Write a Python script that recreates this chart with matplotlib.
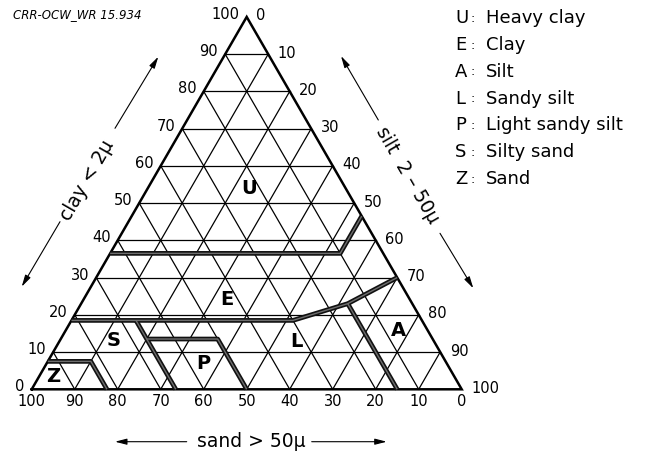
import numpy as np
import matplotlib
matplotlib.use("Agg")
import matplotlib.pyplot as plt

# grid step of the triangle (percent)
grid_steps = [10, 20, 30, 40, 50, 60, 70, 80, 90]
tick_values = [0, 10, 20, 30, 40, 50, 60, 70, 80, 90, 100]

# class boundaries as (sand %, clay %) vertices
bound_U_sand = [63.5, 10, 0]
bound_U_clay = [36.5, 36.5, 46.5]
bound_E_sand = [81.5, 30, 15, 0]
bound_E_clay = [18.5, 18.5, 23, 30]
bound_A_sand = [15, 15]
bound_A_clay = [23, 0]
bound_S_sand = [66.5, 66.5]
bound_S_clay = [18.5, 0]
bound_P_sand = [66.5, 50, 50]
bound_P_clay = [13.5, 13.5, 0]
bound_Z_sand = [92.5, 82.5, 82.5]
bound_Z_clay = [7.5, 7.5, 0]

# class letters placed at (clay %, silt %)
class_codes = ["U", "E", "A", "L", "P", "S", "Z"]
class_names = ["Heavy clay", "Clay", "Silt", "Sandy silt",
               "Light sandy silt", "Silty sand", "Sand"]
label_clay = [54, 24, 15.9, 12.8, 7, 13.2, 3.4]
label_silt = [23.5, 33.3, 77.3, 55.2, 36.3, 12.5, 3.3]

H = np.sqrt(3) / 2


def tern(clay, silt):
    clay = np.asarray(clay, dtype=float)
    silt = np.asarray(silt, dtype=float)
    return silt + clay / 2, clay * H


def tern_sand(sand, clay):
    sand = np.asarray(sand, dtype=float)
    clay = np.asarray(clay, dtype=float)
    return tern(clay, 100 - sand - clay)


# pixel -> data helper for the loose annotations (scale 4.3 px per unit)
X0, Y0, S = 31.7, 389.3, 4.3


def px(x, y):
    return (x - X0) / S, (Y0 - y) / S


fig = plt.figure(figsize=(6.54, 4.55), dpi=100)
ax = fig.add_axes([0, 0, 1, 1])
ax.set_xlim(-X0 / S, (654 - X0) / S)
ax.set_ylim((Y0 - 455) / S, Y0 / S)
ax.axis("off")

# thin grid
for v in grid_steps:
    x, y = tern([v, v], [0, 100 - v])          # constant clay
    ax.plot(x, y, color="k", lw=0.9, zorder=1)
    x, y = tern([0, 100 - v], [v, v])          # constant silt
    ax.plot(x, y, color="k", lw=0.9, zorder=1)
    x, y = tern_sand([v, v], [0, 100 - v])     # constant sand
    ax.plot(x, y, color="k", lw=0.9, zorder=1)

# outer triangle
x, y = tern([0, 100, 0, 0], [0, 0, 100, 0])
ax.plot(x, y, color="k", lw=1.8, zorder=3, solid_joinstyle="miter")

# class boundaries
bounds = [(bound_U_sand, bound_U_clay), (bound_E_sand, bound_E_clay),
          (bound_A_sand, bound_A_clay), (bound_S_sand, bound_S_clay),
          (bound_P_sand, bound_P_clay), (bound_Z_sand, bound_Z_clay)]
for bs, bc in bounds:
    x, y = tern_sand(bs, bc)
    ax.plot(x, y, color="#111111", lw=3.4, zorder=4, solid_capstyle="butt")
    ax.plot(x, y, color="#6e6e6e", lw=1.0, zorder=5, solid_capstyle="butt")

# class letters
for code, c, s in zip(class_codes, label_clay, label_silt):
    x, y = tern(c, s)
    ax.text(x, y, code, ha="center", va="center", fontsize=14,
            fontweight="bold", zorder=6)

# tick labels
for v in tick_values:
    x, y = tern(v, 0)
    ax.annotate(str(v), (x, y), xytext=(-7, 2.5), textcoords="offset pixels",
                ha="right", va="center", fontsize=10.5)
    x, y = tern(100 - v, v)
    ax.annotate(str(v), (x, y), xytext=(9.5, 1), textcoords="offset pixels",
                ha="left", va="center", fontsize=10.5)
    x, y = tern_sand(v, 0)
    ax.annotate(str(v), (x, y), xytext=(0, -12.5), textcoords="offset pixels",
                ha="center", va="center", fontsize=10.5)

# axis titles with arrows
arrow = dict(arrowstyle="-|>,head_length=0.7,head_width=0.18", lw=0.8,
             color="k", shrinkA=0, shrinkB=0)
ax.text(*px(87, 180), "clay < 2\u03bc", rotation=60, ha="center",
        va="center", fontsize=13.5)
ax.annotate("", xy=px(158.3, 56.7), xytext=px(115, 128.3), arrowprops=arrow)
ax.annotate("", xy=px(21.7, 286.7), xytext=px(60, 221.7), arrowprops=arrow)

ax.text(*px(407.5, 175), "silt  2 \u2013 50\u03bc", rotation=-60,
        ha="center", va="center", fontsize=13.5)
ax.annotate("", xy=px(341, 56), xytext=px(378.3, 120), arrowprops=arrow)
ax.annotate("", xy=px(473.3, 288.3), xytext=px(440, 233.3), arrowprops=arrow)

ax.text(*px(251.5, 441.7), "sand > 50\u03bc", ha="center", va="center",
        fontsize=13.5)
ax.annotate("", xy=px(115, 441.7), xytext=px(186.7, 441.7), arrowprops=arrow)
ax.annotate("", xy=px(386.7, 441.7), xytext=px(311.7, 441.7), arrowprops=arrow)

# reference code top-left
ax.text(*px(13, 15), "CRR-OCW_WR 15.934", ha="left", va="center",
        fontsize=8.5, style="italic")

# legend of classes
for i, (code, name) in enumerate(zip(class_codes, class_names)):
    yy = 18.3 + i * 26.8
    ax.text(*px(455, yy), code, ha="left", va="center", fontsize=13)
    ax.text(*px(473, yy), ":", ha="center", va="center", fontsize=9)
    ax.text(*px(486, yy), name, ha="left", va="center", fontsize=13)

fig.savefig("out.png", dpi=100)
